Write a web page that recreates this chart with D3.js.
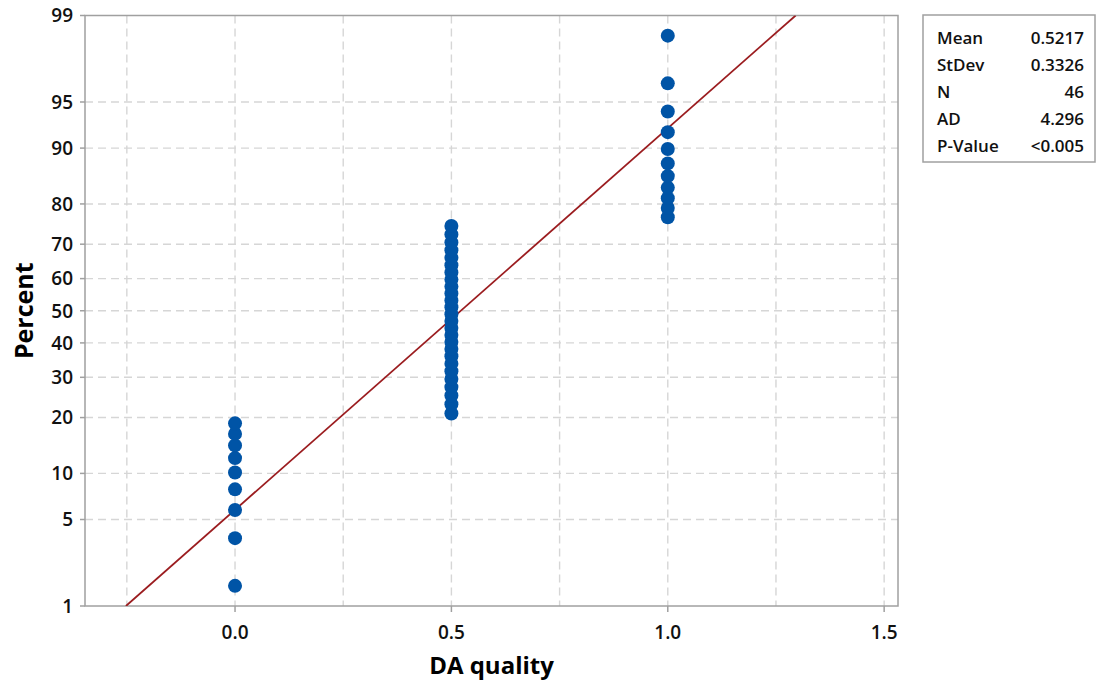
<!DOCTYPE html>
<html><head><meta charset="utf-8">
<script src="https://cdn.jsdelivr.net/npm/d3@7"></script>
<style>
html,body{margin:0;padding:0;background:#fff;}
svg text{font-family:"Open Sans","Noto Sans",sans-serif;}
</style></head>
<body><svg id="c" width="1098" height="685"></svg>
<script>
// Data values (DA quality) and their plotted percent positions
const values = [0,0,0,0,0,0,0,0,0,
  0.5,0.5,0.5,0.5,0.5,0.5,0.5,0.5,0.5,0.5,0.5,0.5,0.5,0.5,0.5,0.5,0.5,0.5,0.5,0.5,0.5,0.5,0.5,0.5,0.5,0.5,
  1,1,1,1,1,1,1,1,1,1,1];
const percents = [1.51,3.66,5.82,7.97,10.13,12.28,14.44,16.59,18.75,
  20.91,23.06,25.22,27.37,29.53,31.68,33.84,35.99,38.15,40.30,42.46,44.61,46.77,48.92,51.08,53.23,55.39,
  57.54,59.70,61.85,64.01,66.16,68.32,70.47,72.63,74.78,
  76.94,79.09,81.25,83.41,85.56,87.72,89.87,92.03,94.18,96.34,98.49];
// fitted normal line endpoints (x, percent)
const fitX = [-0.2521, 1.2955];
const fitP = [1, 99];
const yTicks = [1,5,10,20,30,40,50,60,70,80,90,95,99];
const xTicks = [0, 0.5, 1.0, 1.5];
const xGrid = [-0.25, 0, 0.25, 0.5, 0.75, 1.0, 1.25, 1.5];
const statLabels = ["Mean","StDev","N","AD","P-Value"];
const statValues = ["0.5217","0.3326","46","4.296","<0.005"];

// inverse normal CDF (Acklam)
function qnorm(p){
  const a=[-3.969683028665376e+01,2.209460984245205e+02,-2.759285104469687e+02,1.383577518672690e+02,-3.066479806614716e+01,2.506628277459239e+00];
  const b=[-5.447609879822406e+01,1.615858368580409e+02,-1.556989798598866e+02,6.680131188771972e+01,-1.328068155288572e+01];
  const c=[-7.784894002430293e-03,-3.223964580411365e-01,-2.400758277161838e+00,-2.549732539343734e+00,4.374664141464968e+00,2.938163982698783e+00];
  const d=[7.784695709041462e-03,3.224671290700398e-01,2.445134137142996e+00,3.754408661907416e+00];
  const pl=0.02425;let q,r;
  if(p<pl){q=Math.sqrt(-2*Math.log(p));return (((((c[0]*q+c[1])*q+c[2])*q+c[3])*q+c[4])*q+c[5])/((((d[0]*q+d[1])*q+d[2])*q+d[3])*q+1);}
  if(p<=1-pl){q=p-0.5;r=q*q;return (((((a[0]*r+a[1])*r+a[2])*r+a[3])*r+a[4])*r+a[5])*q/(((((b[0]*r+b[1])*r+b[2])*r+b[3])*r+b[4])*r+1);}
  q=Math.sqrt(-2*Math.log(1-p));return -(((((c[0]*q+c[1])*q+c[2])*q+c[3])*q+c[4])*q+c[5])/((((d[0]*q+d[1])*q+d[2])*q+d[3])*q+1);
}

const L=85, R=898, T=15.5, B=606;
const svg=d3.select("#c");
const x=d3.scaleLinear().domain([-0.3467,1.532]).range([L,R]);
const zs=d3.scaleLinear().domain([qnorm(0.01),qnorm(0.99)]).range([B,T]);
const y=p=>zs(qnorm(p/100));

// grid
const g=svg.append("g");
g.selectAll(".vg").data(xGrid).join("line")
  .attr("x1",d=>x(d)).attr("x2",d=>x(d)).attr("y1",T).attr("y2",B)
  .attr("stroke","#d6d6d6").attr("stroke-width",1.4).attr("stroke-dasharray","8,5");
g.selectAll(".hg").data(yTicks.slice(1,-1)).join("line")
  .attr("x1",L).attr("x2",R).attr("y1",d=>y(d)).attr("y2",d=>y(d))
  .attr("stroke","#d6d6d6").attr("stroke-width",1.4).attr("stroke-dasharray","8,5");

// frame
svg.append("rect").attr("x",L).attr("y",T).attr("width",R-L).attr("height",B-T)
  .attr("fill","none").attr("stroke","#a0a0a0").attr("stroke-width",1.5);

// axes ticks
svg.selectAll(".yt").data(yTicks).join("line")
  .attr("x1",L-5).attr("x2",L).attr("y1",d=>y(d)).attr("y2",d=>y(d)).attr("stroke","#a0a0a0").attr("stroke-width",1.5);
svg.selectAll(".ytl").data(yTicks).join("text")
  .attr("x",L-12).attr("y",d=>y(d)).attr("dy","0.36em").attr("text-anchor","end")
  .attr("font-size",19).attr("font-weight",600).attr("fill","#111").text(d=>d);
svg.selectAll(".xt").data(xTicks).join("line")
  .attr("x1",d=>x(d)).attr("x2",d=>x(d)).attr("y1",B).attr("y2",B+6).attr("stroke","#a0a0a0").attr("stroke-width",1.5);
svg.selectAll(".xtl").data(xTicks).join("text")
  .attr("x",d=>x(d)).attr("y",B+33).attr("text-anchor","middle")
  .attr("font-size",19).attr("font-weight",600).attr("fill","#111").text(d=>d.toFixed(1));

// titles
svg.append("text").attr("x",(L+R)/2).attr("y",674).attr("text-anchor","middle")
  .attr("font-size",24).attr("font-weight","bold").attr("fill","#000").text("DA quality");
svg.append("text").attr("transform",`translate(33,${(T+B)/2}) rotate(-90)`).attr("text-anchor","middle")
  .attr("font-size",25).attr("font-weight","bold").attr("fill","#000").text("Percent");

// fit line
svg.append("clipPath").attr("id","pc").append("rect").attr("x",L).attr("y",T).attr("width",R-L).attr("height",B-T);
svg.append("path").datum(fitX.map((v,i)=>[v,fitP[i]]))
  .attr("d",d3.line().x(d=>x(d[0])).y(d=>y(d[1])))
  .attr("fill","none").attr("stroke","#9b1c1f").attr("stroke-width",1.8).attr("clip-path","url(#pc)");

// points
svg.selectAll(".pt").data(values.map((v,i)=>[v,percents[i]])).join("circle")
  .attr("cx",d=>x(d[0])).attr("cy",d=>y(d[1])).attr("r",7).attr("fill","#0054a6");

// stats box
const bx=923, by=15, bw=172, bh=147;
svg.append("rect").attr("x",bx).attr("y",by).attr("width",bw).attr("height",bh)
  .attr("fill","#fff").attr("stroke","#a0a0a0").attr("stroke-width",1.5);
statLabels.forEach((s,i)=>{
  svg.append("text").attr("x",bx+14).attr("y",by+29+i*27).attr("font-size",17).attr("font-weight",600).attr("fill","#111").text(s);
  svg.append("text").attr("x",bx+bw-11).attr("y",by+29+i*27).attr("text-anchor","end").attr("font-size",17).attr("font-weight",600).attr("fill","#111").text(statValues[i]);
});
</script></body></html>
